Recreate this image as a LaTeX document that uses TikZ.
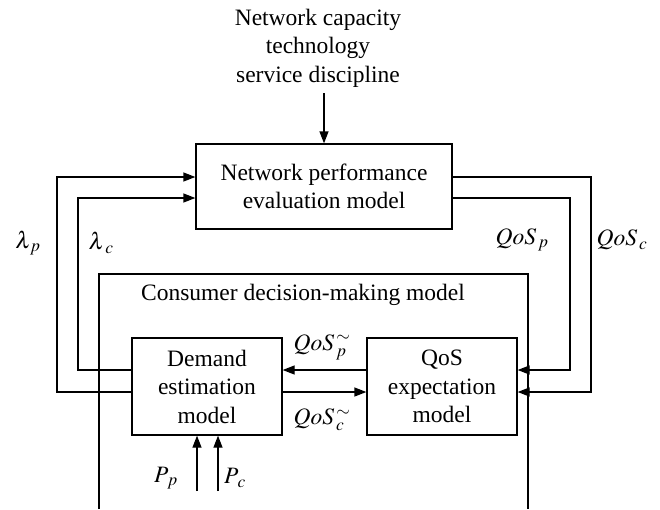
\documentclass[tikz,border=0pt]{standalone}
\usepackage{mathptmx}
\usepackage{fontspec}
\setmainfont{Liberation Serif}
\usetikzlibrary{arrows.meta}

\tikzset{
  box/.style={draw,align=center,inner sep=0pt},
  lbl/.style={inner sep=0pt},
}

\begin{document}
\begin{tikzpicture}[x=1pt,y=-1pt,line width=1.3pt,>={Triangle[length=12pt,width=9pt]},
  every node/.style={font=\fontsize{23.5}{28.5}\selectfont}]
   \useasboundingbox (0,0) rectangle (660,509);

   \node[lbl,align=center] (src) at (318,48) {Network capacity\\technology\\service discipline};
   \node[box,minimum width=256pt,minimum height=85pt] (npe) at (324,186.5) {Network performance\\evaluation model};
   \node[box,minimum width=150pt,minimum height=97pt] (dem) at (207,386.5) {Demand\\estimation\\model};
   \node[box,minimum width=150pt,minimum height=97pt] (qos) at (442,386.5) {QoS\\expectation\\model};
   \node[lbl] (cdm) at (303,295) {Consumer decision-making model};

   \coordinate (top) at (324,93);
   \coordinate (pp) at (197,491);
   \coordinate (pc) at (218,491);

   % consumer box, open at the bottom
   \draw (99,509) -- (99,274) -- (528,274) -- (528,509);

   \draw[->] (top) -- (npe.north);
   \draw[->] (dem.west |- 0,392) -| (57,177) -- (npe.west |- 0,177);
   \draw[->] (dem.west |- 0,370) -| (78,198) -- (npe.west |- 0,198);
   \draw[->] (npe.east |- 0,177) -| (591,392) -- (qos.east |- 0,392);
   \draw[->] (npe.east |- 0,198) -| (570,370) -- (qos.east |- 0,370);
   \draw[->] (qos.west |- 0,370) -- (dem.east |- 0,370);
   \draw[->] (dem.east |- 0,392) -- (qos.west |- 0,392);
   \draw[->] (pp) -- (pp |- dem.south);
   \draw[->] (pc) -- (pc |- dem.south);

   \node[lbl] (lp) at (28,243) {$\lambda_{\,p}$};
   \node[lbl] (lc) at (101,243) {$\lambda_{\,\,c}$};
   \node[lbl] (qp) at (522,240) {$QoS_{\,p}$};
   \node[lbl] (qc) at (622,240) {$QoS_{\,c}$};
   \node[lbl] (qpt) at (322,347) {$QoS_{\,p}^{\,\sim}$};
   \node[lbl] (qct) at (322,420) {$QoS_{\,c}^{\,\sim}$};
   \node[lbl] (lpp) at (166,478) {$P_{\,p}$};
   \node[lbl] (lpc) at (235,478) {$P_{\,c}$};
\end{tikzpicture}
\end{document}
